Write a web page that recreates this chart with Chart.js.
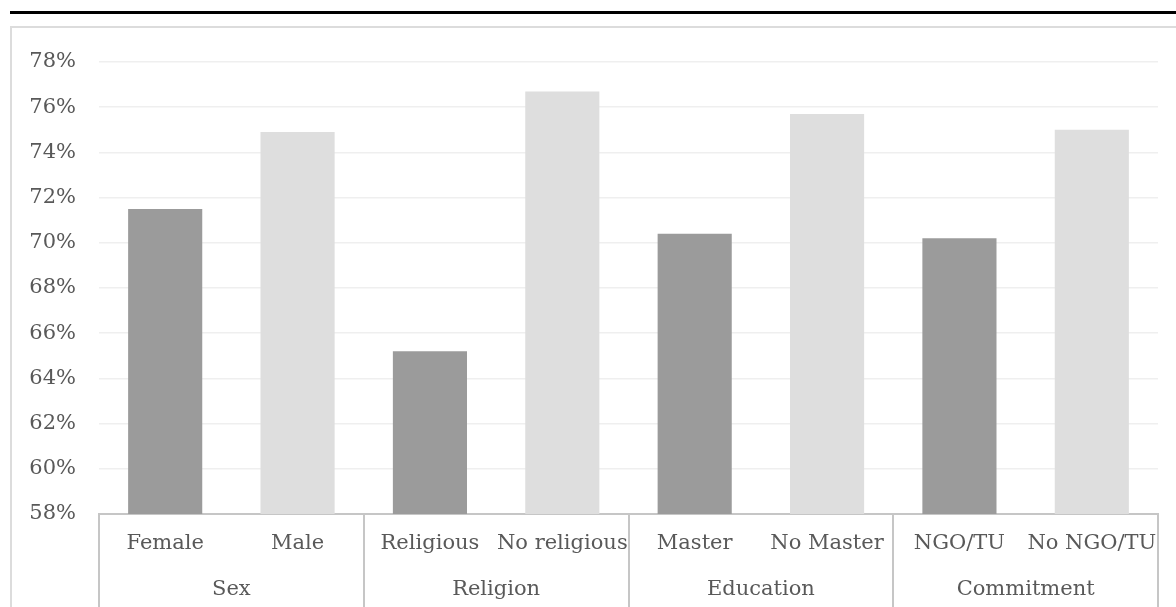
<!DOCTYPE html>
<html>
<head>
<meta charset="utf-8">
<script src="https://cdn.jsdelivr.net/npm/chart.js@4"></script>
<style>
  html, body { margin: 0; padding: 0; background: #fff; }
  body { width: 1176px; height: 607px; position: relative; overflow: hidden; }
  #rule { position: absolute; left: 10px; right: 0; top: 11px; height: 3px; background: #000; }
  #frame { position: absolute; left: 10px; top: 26px; right: -5px; bottom: -5px;
           border: 2px solid #dcdcdc; }
  #wrap { position: absolute; left: 0; top: 0; width: 1176px; height: 607px; }
</style>
</head>
<body>
<div id="rule"></div>
<div id="frame"></div>
<div id="wrap"><canvas id="chart"></canvas></div>
<script>
document.addEventListener("DOMContentLoaded", () => {

  // ---------- DATA ----------
  const SUB_LABELS = ["Female", "Male", "Religious", "No religious", "Master", "No Master", "NGO/TU", "No NGO/TU"];
  const GROUP_LABELS = ["Sex", "Religion", "Education", "Commitment"];
  const VALUES = [71.5, 74.9, 65.2, 76.7, 70.4, 75.7, 70.2, 75.0];
  const Y_MIN = 58, Y_MAX = 78, Y_STEP = 2;

  const DARK = "#9b9b9b";
  const LIGHT = "#dedede";
  const TEXT = "#595959";
  const FONT = "'DejaVu Serif', serif";
  const SIZE = 21;

  // group separators below the axis
  const separators = {
    id: "separators",
    afterDraw(chart) {
      const x = chart.scales.x;
      const ctx = chart.ctx;
      const step = (x.right - x.left) / SUB_LABELS.length;
      ctx.save();
      ctx.strokeStyle = "#c6c6c6";
      ctx.lineWidth = 2;
      for (let i = 0; i <= SUB_LABELS.length; i += 2) {
        const px = Math.round(x.left + i * step);
        ctx.beginPath();
        ctx.moveTo(px, chart.chartArea.bottom);
        ctx.lineTo(px, chart.height);
        ctx.stroke();
      }
      ctx.restore();
    }
  };

  new Chart(document.getElementById("chart"), {
    type: "bar",
    data: {
      labels: SUB_LABELS,
      datasets: [{
        data: VALUES,
        backgroundColor: VALUES.map((_, i) => i % 2 === 0 ? DARK : LIGHT),
        categoryPercentage: 1,
        barPercentage: 0.56
      }]
    },
    options: {
      responsive: true,
      maintainAspectRatio: false,
      animation: false,
      layout: { padding: { left: 0, right: 18, top: 62, bottom: 0 } },
      plugins: { legend: { display: false }, tooltip: { enabled: false } },
      scales: {
        y: {
          min: Y_MIN,
          max: Y_MAX,
          afterFit: s => { s.width = 99; },
          ticks: {
            stepSize: Y_STEP,
            color: TEXT,
            font: { family: FONT, size: SIZE },
            padding: 23,
            callback: v => v + "%"
          },
          grid: { color: "#efefef", lineWidth: 1.5, drawTicks: false },
          border: { display: false }
        },
        x: {
          afterFit: s => { s.height = 48; },
          ticks: { color: TEXT, font: { family: FONT, size: SIZE }, padding: 17, maxRotation: 0, autoSkip: false },
          grid: { display: false, drawTicks: false },
          border: { display: true, color: "#c6c6c6", width: 2 }
        },
        x2: {
          type: "category",
          position: "bottom",
          labels: GROUP_LABELS,
          offset: true,
          afterFit: s => { s.height = 45; },
          ticks: { color: TEXT, font: { family: FONT, size: SIZE }, padding: 15, maxRotation: 0, autoSkip: false },
          grid: { display: false, drawTicks: false },
          border: { display: false }
        }
      }
    },
    plugins: [separators]
  });
});
</script>
</body>
</html>
